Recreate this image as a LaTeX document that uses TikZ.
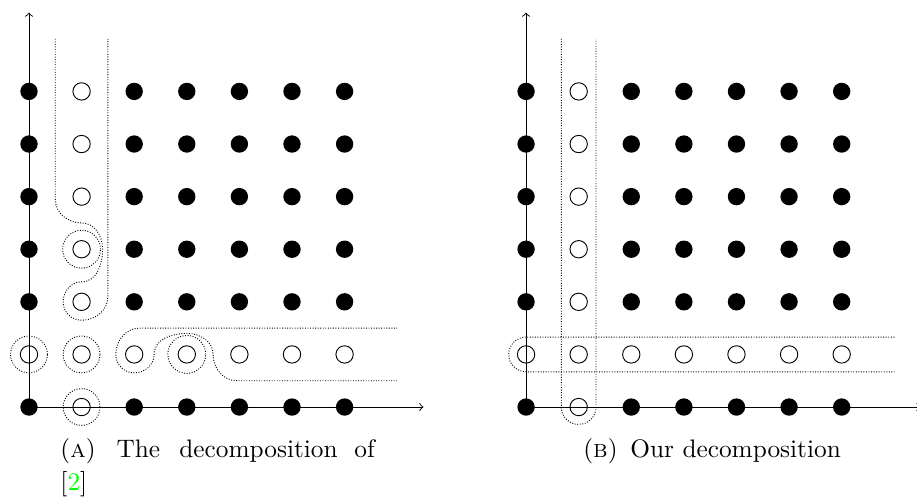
\documentclass[tikz,border=0pt]{standalone}
\begin{document}
\begin{tikzpicture}[x=0.8cm,y=0.8cm,
    full/.style={circle,fill=black,inner sep=0pt,minimum size=0.264cm},
    hollow/.style={circle,draw=black,inner sep=0pt,minimum size=0.264cm},
    part/.style={draw=black,line width=0.4pt,dash pattern=on 0.4pt off 0.7pt},
    captext/.style={inner sep=0pt,anchor=base west,font=\fontsize{10.95}{14.46}\selectfont}]
  \useasboundingbox (-0.551,-1.730) rectangle (16.882,7.738);
  % (a) the decomposition of [2]
  \coordinate (ao) at (0,0);
  \coordinate (ax) at (7.5,0);
  \coordinate (ay) at (0,7.5);
  \draw[->] (ao) -- (ax);
  \draw[->] (ao) -- (ay);
  \draw
    (0,0) node[full] (a00){} (1,0) node[hollow] (a10){} (2,0) node[full] (a20){} (3,0) node[full] (a30){} (4,0) node[full] (a40){} (5,0) node[full] (a50){} (6,0) node[full] (a60){}
    (0,1) node[hollow] (a01){} (1,1) node[hollow] (a11){} (2,1) node[hollow] (a21){} (3,1) node[hollow] (a31){} (4,1) node[hollow] (a41){} (5,1) node[hollow] (a51){} (6,1) node[hollow] (a61){}
    (0,2) node[full] (a02){} (1,2) node[hollow] (a12){} (2,2) node[full] (a22){} (3,2) node[full] (a32){} (4,2) node[full] (a42){} (5,2) node[full] (a52){} (6,2) node[full] (a62){}
    (0,3) node[full] (a03){} (1,3) node[hollow] (a13){} (2,3) node[full] (a23){} (3,3) node[full] (a33){} (4,3) node[full] (a43){} (5,3) node[full] (a53){} (6,3) node[full] (a63){}
    (0,4) node[full] (a04){} (1,4) node[hollow] (a14){} (2,4) node[full] (a24){} (3,4) node[full] (a34){} (4,4) node[full] (a44){} (5,4) node[full] (a54){} (6,4) node[full] (a64){}
    (0,5) node[full] (a05){} (1,5) node[hollow] (a15){} (2,5) node[full] (a25){} (3,5) node[full] (a35){} (4,5) node[full] (a45){} (5,5) node[full] (a55){} (6,5) node[full] (a65){}
    (0,6) node[full] (a06){} (1,6) node[hollow] (a16){} (2,6) node[full] (a26){} (3,6) node[full] (a36){} (4,6) node[full] (a46){} (5,6) node[full] (a56){} (6,6) node[full] (a66){};
  \begin{scope}[part]
    \draw (0.5,7) -- (0.5,3.95) to[out=-90,in=180] (1,3.5) to[out=0,in=90] (1.4,3)
      to[out=-90,in=0] (1,2.38) to[out=180,in=90] (0.65,2) to[out=-90,in=180] (1,1.65)
      to[out=0,in=-90] (1.5,2.1) -- (1.5,7);
    \draw (7,0.5) -- (3.95,0.5) to[out=180,in=-90] (3.5,1) to[out=90,in=0] (3,1.4)
      to[out=180,in=90] (2.38,1) to[out=-90,in=0] (2,0.65) to[out=180,in=-90] (1.65,1)
      to[out=90,in=180] (2.1,1.5) -- (7,1.5);
    \draw (a01.center) circle (0.35);
    \draw (a11.center) circle (0.35);
    \draw (a10.center) circle (0.35);
    \draw (a13.center) circle (0.36);
    \draw (a31.center) circle (0.36);
  \end{scope}
  % (b) our decomposition
  \begin{scope}[shift={(9.45,0)}]
    \coordinate (bo) at (0,0);
    \coordinate (bx) at (7.5,0);
    \coordinate (by) at (0,7.5);
    \draw[->] (bo) -- (bx);
    \draw[->] (bo) -- (by);
    \draw
      (0,0) node[full] (b00){} (1,0) node[hollow] (b10){} (2,0) node[full] (b20){} (3,0) node[full] (b30){} (4,0) node[full] (b40){} (5,0) node[full] (b50){} (6,0) node[full] (b60){}
      (0,1) node[hollow] (b01){} (1,1) node[hollow] (b11){} (2,1) node[hollow] (b21){} (3,1) node[hollow] (b31){} (4,1) node[hollow] (b41){} (5,1) node[hollow] (b51){} (6,1) node[hollow] (b61){}
      (0,2) node[full] (b02){} (1,2) node[hollow] (b12){} (2,2) node[full] (b22){} (3,2) node[full] (b32){} (4,2) node[full] (b42){} (5,2) node[full] (b52){} (6,2) node[full] (b62){}
      (0,3) node[full] (b03){} (1,3) node[hollow] (b13){} (2,3) node[full] (b23){} (3,3) node[full] (b33){} (4,3) node[full] (b43){} (5,3) node[full] (b53){} (6,3) node[full] (b63){}
      (0,4) node[full] (b04){} (1,4) node[hollow] (b14){} (2,4) node[full] (b24){} (3,4) node[full] (b34){} (4,4) node[full] (b44){} (5,4) node[full] (b54){} (6,4) node[full] (b64){}
      (0,5) node[full] (b05){} (1,5) node[hollow] (b15){} (2,5) node[full] (b25){} (3,5) node[full] (b35){} (4,5) node[full] (b45){} (5,5) node[full] (b55){} (6,5) node[full] (b65){}
      (0,6) node[full] (b06){} (1,6) node[hollow] (b16){} (2,6) node[full] (b26){} (3,6) node[full] (b36){} (4,6) node[full] (b46){} (5,6) node[full] (b56){} (6,6) node[full] (b66){};
    \begin{scope}[part]
      \draw (0.67,7) -- (0.67,0) arc[start angle=180,end angle=360,radius=0.33] -- (1.33,7);
      \draw (7,1.33) -- (0,1.33) arc[start angle=90,end angle=270,radius=0.33] -- (7,0.67);
    \end{scope}
  \end{scope}
  % captions
  \node[captext] (capa) at (0.59,-0.956)
    {\hbox to 136pt{(\textsc{a})\hspace{0pt plus 1.25fill}The\hspace{0pt plus 1.15fill}decomposition\hspace{0pt plus 1fill}of}};
  \node[captext] (capa2) at (0.59,-1.59) {[\textcolor{green}{2}]};
  \node[captext] (capb) at (10.53,-0.956) {(\textsc{b})\hspace{5.5pt}Our decomposition};
\end{tikzpicture}
\end{document}
